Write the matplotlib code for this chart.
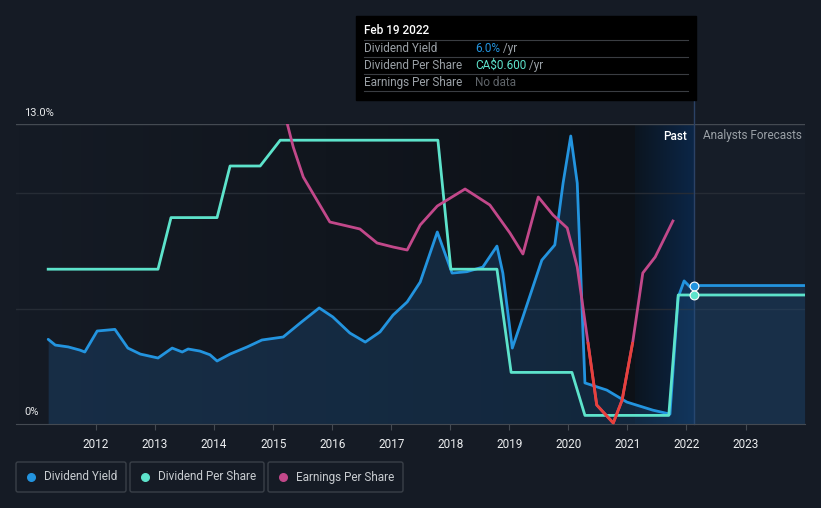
import numpy as np
import matplotlib.pyplot as plt
from matplotlib.patches import Rectangle, FancyBboxPatch
from matplotlib.colors import LinearSegmentedColormap

plt.rcParams['font.family'] = ['Roboto', 'DejaVu Sans']

# dividend yield (%)
yield_years = [2011.19, 2011.31, 2011.53, 2011.73, 2011.81, 2012.02, 2012.32, 2012.54,
               2012.75, 2013.05, 2013.29, 2013.46, 2013.56, 2013.76, 2013.93, 2014.05,
               2014.27, 2014.56, 2014.81, 2015.17, 2015.46, 2015.78, 2016.01, 2016.30,
               2016.56, 2016.81, 2017.03, 2017.27, 2017.49, 2017.78, 2018.03, 2018.28,
               2018.55, 2018.79, 2018.89, 2019.05, 2019.23, 2019.55, 2019.77, 2019.91,
               2020.04, 2020.15, 2020.28, 2020.65, 2020.99, 2021.43, 2021.72, 2021.86,
               2021.96, 2022.06, 2022.13, 2024.0]
yield_vals = [3.67, 3.42, 3.34, 3.20, 3.12, 4.03, 4.10, 3.29,
              3.03, 2.86, 3.29, 3.12, 3.25, 3.16, 3.00, 2.73,
              3.03, 3.34, 3.64, 3.77, 4.38, 5.03, 4.64, 3.94,
              3.55, 3.99, 4.72, 5.29, 6.15, 8.32, 6.54, 6.60,
              6.80, 7.71, 6.54, 3.29, 4.64, 7.10, 7.76, 10.44,
              12.48, 10.44, 1.78, 1.47, 0.95, 0.60, 0.43, 5.50,
              6.20, 5.94, 6.00, 6.00]

# dividend per share (CA$)
dps_years = [2011.19, 2013.05, 2013.27, 2014.05, 2014.27, 2014.78, 2015.12, 2017.79,
             2018.01, 2018.79, 2019.03, 2020.06, 2020.28, 2021.70, 2021.86, 2024.0]
dps_vals = [0.72, 0.72, 0.96, 0.96, 1.20, 1.20, 1.32, 1.32,
            0.72, 0.72, 0.24, 0.24, 0.04, 0.04, 0.60, 0.60]

# earnings per share (CA$)
eps_years = [2015.12, 2015.24, 2015.34, 2015.51, 2015.74, 2015.96, 2016.18, 2016.47,
             2016.76, 2017.03, 2017.27, 2017.49, 2017.78, 2018.25, 2018.67, 2019.01,
             2019.23, 2019.49, 2019.74, 2019.98, 2020.15, 2020.33, 2020.48, 2020.76,
             2020.91, 2021.09, 2021.26, 2021.47, 2021.77]
eps_vals = [2.47, 2.18, 1.95, 1.65, 1.42, 1.20, 1.17, 1.13,
            0.99, 0.95, 0.92, 1.17, 1.36, 1.53, 1.37, 1.09,
            0.88, 1.45, 1.27, 1.14, 0.75, 0.00, -0.63, -0.81,
            -0.58, 0.00, 0.69, 0.85, 1.21]

years = list(range(2012, 2024))
now = 2022.13

BG = '#151b25'
BLUE = '#2394df'
TEAL = '#5de3cb'
PINK = '#c2488a'
RED = '#e8413b'
GREY = '#9aa0a6'

fig = plt.figure(figsize=(8.21, 5.08), dpi=100, facecolor=BG)
ax = fig.add_axes([16 / 821, 84 / 508, 789 / 821, 300 / 508])
ax.set_facecolor('#161d28')
ax.set_xlim(2010.645, 2024.007)
ax.set_ylim(0, 13)

# past background gradient and highlight band
grad = LinearSegmentedColormap.from_list('g', ['#151b25', '#0d1117'])
ax.imshow(np.linspace(0, 1, 200).reshape(1, -1), cmap=grad, aspect='auto',
          extent=[2010.645, now - 1, 0, 13], zorder=0)
band = LinearSegmentedColormap.from_list('b', ['#0c1520', '#0b2647'])
ax.imshow(np.linspace(0, 1, 100).reshape(1, -1), cmap=band, aspect='auto',
          extent=[now - 1, now, 0, 13], zorder=0)

for g in (5, 10):
    ax.axhline(g, color='#262c35', lw=1, zorder=1)
ax.axhline(13, color='#444a52', lw=1, zorder=1)
ax.axvline(now, ymin=0, ymax=324 / 300, color='#2b4266', lw=1, clip_on=False, zorder=1)

# dividend yield
ax.fill_between(yield_years, yield_vals, 0, color='#1e5285', alpha=0.35, lw=0, zorder=2)
ax.plot(yield_years, yield_vals, color=BLUE, lw=2, zorder=4, solid_capstyle='round')

# dividend per share
ax2 = ax.twinx()
ax2.set_ylim(0, 0.6 * 300 / 129)
ax2.plot(dps_years, dps_vals, color=TEAL, lw=2, zorder=4)

# earnings per share
ax3 = ax.twinx()
ax3.set_ylim(-0.82, 2.18)
ax3.plot(eps_years, eps_vals, color=PINK, lw=2, zorder=3)
neg = ax3.plot(eps_years, eps_vals, color=RED, lw=2, zorder=3)[0]
neg.set_clip_path(Rectangle((2010, -5), 20, 5, transform=ax3.transData))

for a in (ax2, ax3):
    a.set_xlim(ax.get_xlim())
    a.axis('off')

ax.scatter([now], [6.0], s=40, color=BLUE, edgecolor='white', lw=0.8, zorder=6)
ax2.scatter([now], [0.6], s=40, color=TEAL, edgecolor='white', lw=0.8, zorder=6)

for s in ('top', 'left', 'right'):
    ax.spines[s].set_visible(False)
ax.spines['bottom'].set_color('#444a52')
ax.set_yticks([])
ax.set_xticks(years)
ax.set_xticklabels([str(y) for y in years])
ax.tick_params(axis='x', colors='#444a52', labelcolor='#eceef0', labelsize=8.5,
               length=4, pad=6)

# overlay in pixel coordinates for texts and boxes
ov = fig.add_axes([0, 0, 1, 1], facecolor='none')
ov.set_xlim(0, 821)
ov.set_ylim(508, 0)
ov.axis('off')

ov.text(24, 113, '13.0%', color='#e6e8ea', fontsize=8, va='center')
ov.text(24, 412, '0%', color='#e6e8ea', fontsize=8, va='center')
ov.text(687, 136, 'Past', color='white', fontsize=8.5, ha='right', va='center',
        fontweight='medium')
ov.text(703, 136, 'Analysts Forecasts', color=GREY, fontsize=8.5, va='center')

# tooltip
ov.add_patch(Rectangle((356, 16), 340, 84, color='#000000', zorder=5))
ov.text(364, 31, 'Feb 19 2022', color='white', fontsize=8.5, fontweight='medium',
        va='center', zorder=6)
rows = [('Dividend Yield', '6.0%', BLUE, ' /yr'),
        ('Dividend Per Share', 'CA$0.600', TEAL, ' /yr'),
        ('Earnings Per Share', 'No data', '#5f6469', '')]
r = fig.canvas.get_renderer()
for i, (lab, val, col, unit) in enumerate(rows):
    y = 48.5 + 17 * i
    ov.plot([364, 688], [y - 8.5, y - 8.5], color='#3a3d42', lw=0.8, zorder=6)
    ov.text(364, y, lab, color=GREY, fontsize=8.5, va='center', zorder=6)
    t = ov.text(475, y, val, color=col, fontsize=8.5, va='center', zorder=6)
    if unit:
        bb = t.get_window_extent(renderer=r)
        ov.text(bb.x1, y, unit, color=GREY, fontsize=8.5, va='center', zorder=6)
ov.plot([364, 688], [91, 91], color='#3a3d42', lw=0.8, zorder=6)

# legend
legend = [('Dividend Yield', BLUE, 16, 110), ('Dividend Per Share', TEAL, 130, 134),
          ('Earnings Per Share', PINK, 268, 135)]
for lab, col, x0, w in legend:
    ov.add_patch(FancyBboxPatch((x0, 462), w, 30, boxstyle='round,pad=0,rounding_size=2',
                                fc='none', ec='#3a4048', lw=1))
    ov.scatter([x0 + 15], [477], s=30, color=col)
    ov.text(x0 + 28, 477, lab, color='#c8ccd0', fontsize=8.5, va='center')

fig.savefig('out.png', dpi=100, facecolor=BG)
